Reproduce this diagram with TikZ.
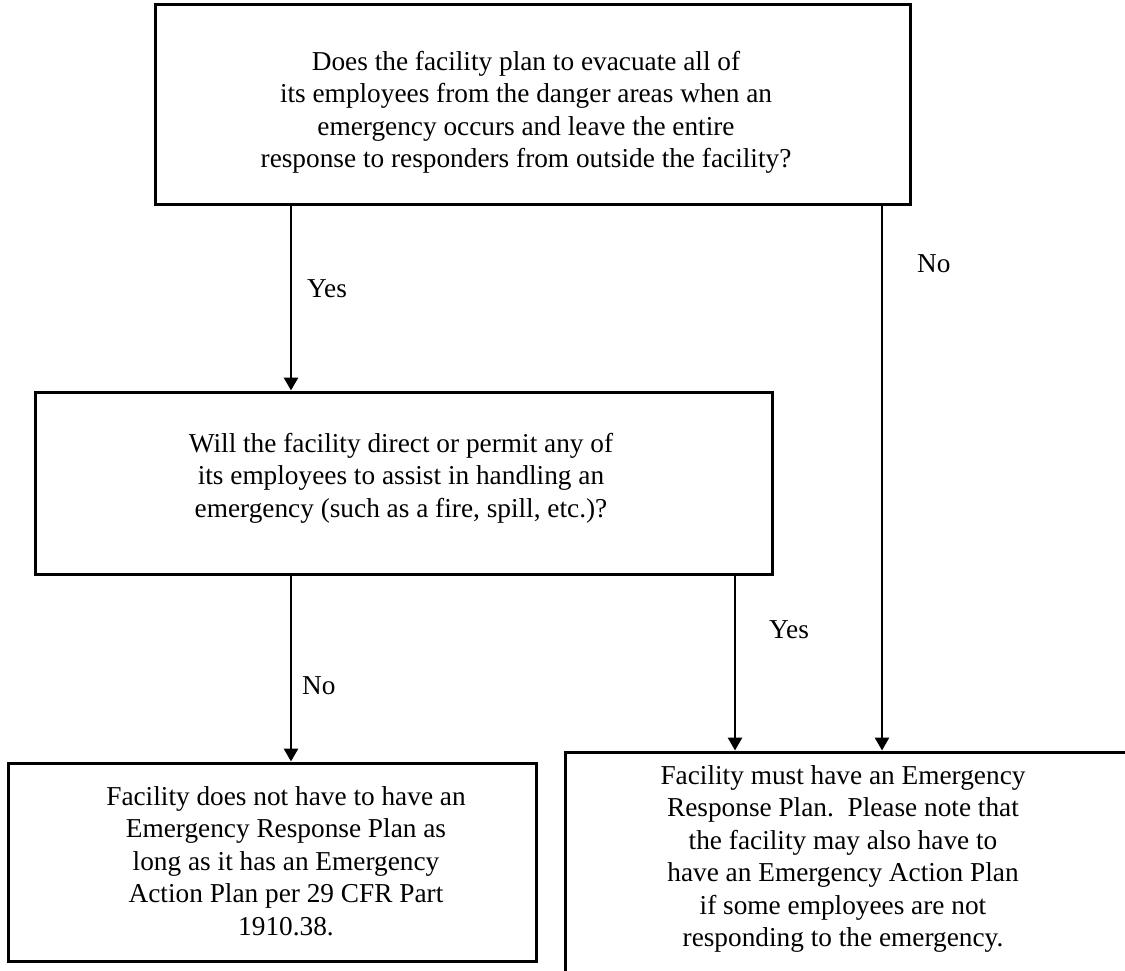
\documentclass[tikz,border=0pt]{standalone}
\usepackage{fontspec}
\setmainfont{Liberation Serif}
\usetikzlibrary{arrows.meta}
\begin{document}
\begin{tikzpicture}[x=1pt,y=-1pt,
  box/.style={draw,line width=3pt,rectangle,inner sep=0pt},
  txt/.style={align=center,font=\fontsize{27.3}{32.5}\selectfont,inner sep=0pt},
  lbl/.style={anchor=base west,font=\fontsize{27.3}{32.5}\selectfont,inner sep=0pt},
  arr/.style={line width=2.8pt,-{Triangle[width=14pt,length=13pt]}}]
\useasboundingbox (0,0) rectangle (1125,970);
\clip (0,0) rectangle (1125,970);
\fill[white] (0,0) rectangle (1125,970);
% boxes
\node[box,minimum width=755pt,minimum height=200pt] (q1) at (532.5,104) {};
\node[box,minimum width=737pt,minimum height=182pt] (q2) at (403.5,483) {};
\node[box,minimum width=528pt,minimum height=198pt] (r1) at (272,862) {};
\node[box,minimum width=600pt,minimum height=260pt] (r2) at (865,882) {};
% texts
\node[txt] (t1) at (526,112.5) {Does the facility plan to evacuate all of\\its employees from the danger areas when an\\emergency occurs and leave the entire\\response to responders from outside the facility?};
\node[txt] (t2) at (401,478) {Will the facility direct or permit any of\\its employees to assist in handling an\\emergency (such as a fire, spill, etc.)?};
\node[txt] (t3) at (286,861) {Facility does not have to have an\\Emergency Response Plan as\\long as it has an Emergency\\Action Plan per 29 CFR Part\\1910.38.};
\node[txt] (t4) at (843,859) {Facility must have an Emergency\\Response Plan.\ \ Please note that\\the facility may also have to\\have an Emergency Action Plan\\if some employees are not\\responding to the emergency.};
% connector columns
\coordinate (cA) at (291,0);
\coordinate (cB) at (735,0);
\coordinate (cC) at (882,0);
% connectors
\draw[arr] (q1.south -| cA) -- (q2.north -| cA);
\draw[arr] (q1.south -| cC) -- (r2.north -| cC);
\draw[arr] (q2.south -| cA) -- (r1.north -| cA);
\draw[arr] (q2.south -| cB) -- (r2.north -| cB);
% labels
\node[lbl] (l1) at (307,297) {Yes};
\node[lbl] (l2) at (917,272) {No};
\node[lbl] (l3) at (302,694) {No};
\node[lbl] (l4) at (769,638) {Yes};
\end{tikzpicture}
\end{document}
